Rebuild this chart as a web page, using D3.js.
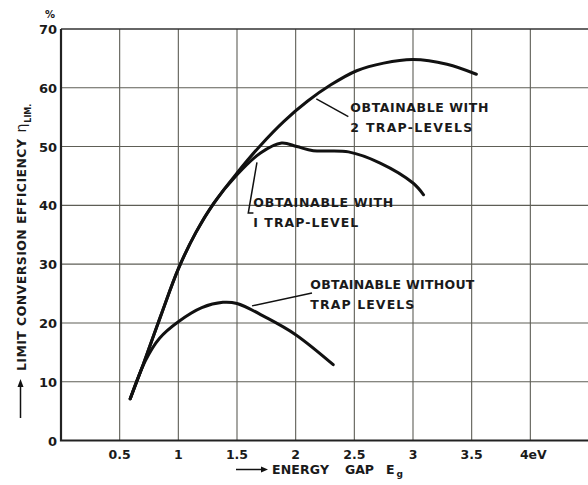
<!DOCTYPE html>
<html>
<head>
<meta charset="UTF-8">
<script src="https://cdn.jsdelivr.net/npm/d3@7"></script>
<style>
  body { margin: 0; background: #fff; }
  text { font-family: "DejaVu Sans", sans-serif; font-weight: bold; fill: #1a1a1a; }
</style>
</head>
<body>
<svg id="chart" width="588" height="485"></svg>
<script>
// --- data (energy gap in eV, efficiency in %) ---
const xTicks = [0.5, 1, 1.5, 2, 2.5, 3, 3.5, 4];
const xTickLabels = ["0.5", "1", "1.5", "2", "2.5", "3", "3.5", "4eV"];
const yTicks = [0, 10, 20, 30, 40, 50, 60, 70];

const noTrap = [[0.59, 7.1], [0.72, 13.6], [0.84, 17.4], [1.0, 20.2], [1.2, 22.6],
  [1.38, 23.5], [1.5, 23.3], [1.75, 20.9], [2.0, 18.0], [2.32, 12.9]];
const oneTrap = [[0.59, 7.1], [0.7, 12.9], [0.85, 21.2], [1.0, 29.2], [1.15, 35.4],
  [1.3, 40.3], [1.5, 45.2], [1.7, 48.9], [1.88, 50.6], [2.01, 50.0], [2.15, 49.3],
  [2.45, 49.1], [2.72, 47.2], [3.0, 43.8], [3.09, 41.8]];
const twoTrap = [[0.59, 7.1], [0.7, 12.9], [0.85, 21.2], [1.0, 29.2], [1.15, 35.4],
  [1.3, 40.3], [1.5, 45.5], [1.7, 50.2], [1.9, 54.3], [2.1, 57.7], [2.3, 60.5],
  [2.52, 62.9], [2.75, 64.2], [3.0, 64.8], [3.29, 64.0], [3.54, 62.3]];

const svg = d3.select("#chart");
const x = d3.scaleLinear([0, 4.5], [61, 589]);
const y = d3.scaleLinear([0, 70], [440.5, 29]);

// grid
svg.append("g").selectAll("line").data(xTicks.concat([4.5])).join("line")
  .attr("x1", d => x(d)).attr("x2", d => x(d))
  .attr("y1", y(70)).attr("y2", y(0))
  .attr("stroke", "#5e5e56").attr("stroke-width", 1.1);
svg.append("g").selectAll("line").data(yTicks.slice(1)).join("line")
  .attr("x1", x(0)).attr("x2", x(4.5))
  .attr("y1", d => y(d)).attr("y2", d => y(d))
  .attr("stroke", d => d === 70 ? "#333" : "#5e5e56")
  .attr("stroke-width", d => d === 70 ? 1.6 : 1.1);

// frame (left + bottom)
svg.append("path")
  .attr("d", `M${x(0)},${y(70)}V${y(0)}H${x(4.5)}`)
  .attr("fill", "none").attr("stroke", "#222").attr("stroke-width", 2.2);

// tick labels
svg.append("g").selectAll("text").data(yTicks).join("text")
  .attr("x", 57).attr("y", d => y(d) + 5)
  .attr("text-anchor", "end").attr("font-size", 13)
  .text(d => d);
svg.append("text").attr("x", 50).attr("y", 18)
  .attr("text-anchor", "middle").attr("font-size", 10).text("%");
svg.append("g").selectAll("text").data(xTicks).join("text")
  .attr("x", (d, i) => x(d) + (i === 7 ? 3 : 0)).attr("y", 459)
  .attr("text-anchor", "middle").attr("font-size", 12.5)
  .text((d, i) => xTickLabels[i]);

// curves
const line = d3.line().x(d => x(d[0])).y(d => y(d[1])).curve(d3.curveCatmullRom.alpha(0.5));
[noTrap, oneTrap, twoTrap].forEach(s => {
  svg.append("path").attr("d", line(s))
    .attr("fill", "none").attr("stroke", "#111").attr("stroke-width", 3)
    .attr("stroke-linecap", "round").attr("stroke-linejoin", "round");
});

// annotations
const notes = [
  { lines: ["OBTAINABLE WITH", "2 TRAP-LEVELS"], at: [2.466, 55.8], w: [138, 122],
    leader: [[2.176, 58.1], [2.449, 55.1]] },
  { lines: ["OBTAINABLE WITH", "I TRAP-LEVEL"], at: [1.639, 39.66], w: [140, 105],
    leader: [[1.67, 47.3], [1.596, 38.7], [1.64, 38.7]] },
  { lines: ["OBTAINABLE WITHOUT", "TRAP LEVELS"], at: [2.125, 25.8], w: [164, 104],
    leader: [[1.628, 22.9], [2.139, 25.1]] }
];
notes.forEach(n => {
  n.lines.forEach((t, i) => {
    svg.append("text")
      .attr("x", x(n.at[0])).attr("y", y(n.at[1]) + i * 19.7)
      .attr("font-size", 12.5)
      .attr("textLength", n.w[i]).attr("lengthAdjust", "spacing")
      .text(t);
  });
  svg.append("path")
    .attr("d", d3.line().x(d => x(d[0])).y(d => y(d[1])).curve(d3.curveLinear)(n.leader))
    .attr("fill", "none").attr("stroke", "#111").attr("stroke-width", 1.5);
});

// x axis title
const xt = svg.append("g");
xt.append("line").attr("x1", 236).attr("x2", 262).attr("y1", 469.5).attr("y2", 469.5)
  .attr("stroke", "#111").attr("stroke-width", 1.5);
xt.append("path").attr("d", "M261,466.5L268,469.5L261,472.5Z").attr("fill", "#111");
const xl = xt.append("text").attr("y", 474).attr("font-size", 12.5);
xl.append("tspan").attr("x", 272).attr("textLength", 57).attr("lengthAdjust", "spacing").text("ENERGY");
xl.append("tspan").attr("x", 345).attr("textLength", 29).attr("lengthAdjust", "spacing").text("GAP");
xl.append("tspan").attr("x", 386).text("E");
xl.append("tspan").attr("font-size", 9).attr("dx", 2).attr("dy", 3).text("g");

// y axis title
const yt = svg.append("g");
yt.append("line").attr("x1", 20.5).attr("x2", 20.5).attr("y1", 418).attr("y2", 386)
  .attr("stroke", "#111").attr("stroke-width", 1.5);
yt.append("path").attr("d", "M17.5,387L20.5,379L23.5,387Z").attr("fill", "#111");
const yl = yt.append("text").attr("transform", "translate(26,371) rotate(-90)")
  .attr("font-size", 12.5);
yl.append("tspan").attr("textLength", 232).attr("lengthAdjust", "spacing")
  .text("LIMIT  CONVERSION  EFFICIENCY");
yl.append("tspan").attr("dx", 6).attr("font-size", 14).attr("font-weight", "normal").text("η");
yl.append("tspan").attr("dy", 5).attr("dx", 1).attr("font-size", 8).text("LIM.");
</script>
</body>
</html>
